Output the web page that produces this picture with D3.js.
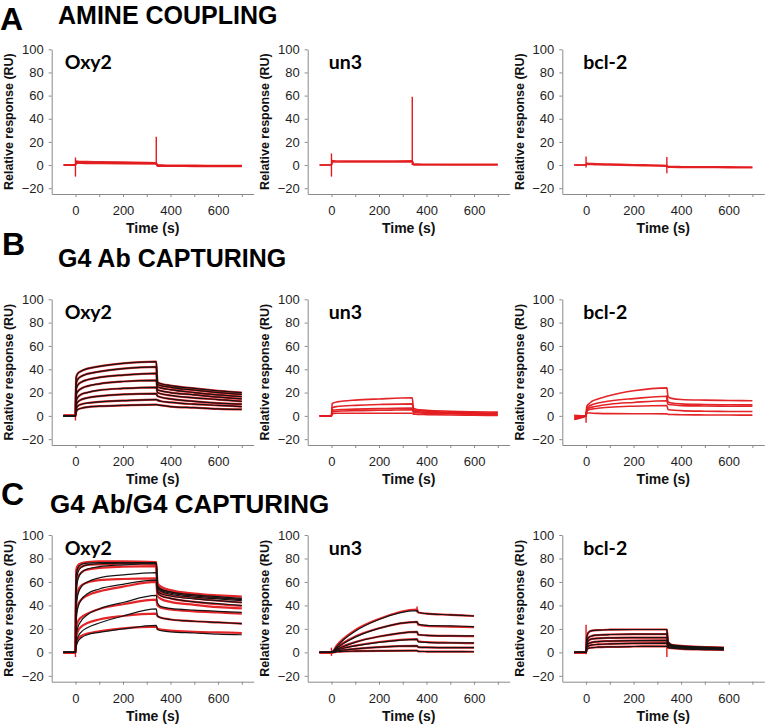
<!DOCTYPE html>
<html><head><meta charset="utf-8">
<script src="https://cdn.jsdelivr.net/npm/d3@7"></script>
<style>body{margin:0;background:#fff}</style></head>
<body>
<svg id="chart" width="775" height="727"></svg>
<script>
// ---------------- DATA ----------------
const sectionLetters = ["A", "B", "C"];
const sectionTitles = ["AMINE COUPLING", "G4 Ab CAPTURING", "G4 Ab/G4 CAPTURING"];
const ligands = ["Oxy2", "un3", "bcl-2"];
const yTicks = [-20, 0, 20, 40, 60, 80, 100];
const xTickLabels = [0, 200, 400, 600];
const xLabel = "Time (s)";
const yLabel = "Relative response (RU)";

const tAssoc = [0, 3, 10, 25, 50, 100, 200, 340];
const tDiss = [345, 360, 400, 500, 600, 700];
const tDiss580 = [345, 360, 400, 500, 580];
const tAssocLong = [0, 25, 50, 100, 200, 360];
const tDissShort = [365, 400, 500, 600];

// Row A: amine coupling (measured data only)
const aOxy2Pre = [0, 0, 0];
const aOxy2Assoc = [[0, 3.5, 3.2, 3, 3, 2.8, 2.5, 2], [0, 2.5, 2.3, 2.2, 2, 2, 1.8, 1.5], [0, 1.5, 1.5, 1.5, 1.4, 1.3, 1.2, 1]];
const aOxy2Diss = [[0, 0, -0.2, -0.3, -0.4, -0.5], [-0.5, -0.5, -0.6, -0.7, -0.8, -0.9], [-1, -1, -1, -1.1, -1.2, -1.3]];
const aOxy2Spikes = [[0, -10, 6.5], [340, 0, 24.5]];

const aUn3Pre = [0, 0];
const aUn3Assoc = [[0, 3.8, 3.6, 3.5, 3.4, 3.4, 3.4, 3.6], [0, 2.8, 2.7, 2.6, 2.6, 2.6, 2.7, 2.8]];
const aUn3Diss = [[0.8, 0.8, 0.7, 0.6, 0.6, 0.6], [0.2, 0.2, 0.2, 0.1, 0.1, 0.1]];
const aUn3Spikes = [[0, -10, 10], [340, 0, 59]];

const aBcl2Pre = [0, 0];
const aBcl2Assoc = [[0, 1.6, 1.4, 1.2, 1, 0.8, 0.3, -0.4], [0, 0.8, 0.6, 0.5, 0.3, 0.1, -0.4, -1]];
const aBcl2Diss = [[-1.2, -1.3, -1.4, -1.5, -1.6, -1.7], [-1.8, -1.9, -2, -2.1, -2.2, -2.3]];
const aBcl2Spikes = [[0, -2, 7.5], [340, -7, 7]];

// Row B: G4 Ab capturing
const bOxy2Pre = [0, 0, 0, 0, 0, 0, 0, 0];
const bOxy2Assoc = [
  [0, 33, 36.5, 38.5, 40.5, 42.5, 45, 46.5],
  [0, 28, 31.5, 34, 36, 38, 40.5, 42],
  [0, 23, 26.5, 29, 31, 33, 35, 36.5],
  [0, 18, 21, 23.5, 25.5, 27.5, 29.5, 30.5],
  [0, 13, 16, 18.5, 20, 22, 23.5, 24.5],
  [0, 9, 12, 14, 15.5, 17, 18.5, 19],
  [0, 6, 8.5, 10, 11, 12, 13, 14],
  [0, 3.5, 5.5, 6.5, 7.5, 8.3, 9, 9.7]];
const bOxy2Diss = [
  [29, 27.5, 26, 23.5, 21.5, 20],
  [27, 26, 24.5, 22, 20, 18.5],
  [25, 24, 22.5, 20, 18, 16.5],
  [22.5, 21.5, 20, 18, 16, 14.5],
  [20, 19, 17.5, 15.5, 14, 12.5],
  [17, 16, 14.5, 12.5, 11, 10],
  [13.5, 12.5, 11.5, 10, 9, 8],
  [9.5, 9, 8, 7, 6, 5.5]];
const bOxy2Spikes = [[0, -4, 0]];

const bUn3Pre = [0, 0, 0, 0, 0];
const bUn3Assoc = [
  [0, 10.5, 11.2, 12, 12.7, 13.5, 14.5, 15.5],
  [0, 7, 7.5, 8, 8.5, 9, 9.7, 10.3],
  [0, 4.8, 5, 5.3, 5.5, 5.8, 6.2, 6.6],
  [0, 3.5, 3.7, 4, 4.2, 4.5, 4.8, 5.2],
  [0, 2, 2.1, 2.2, 2.3, 2.3, 2.3, 2.3]];
const bUn3Diss = [
  [6.5, 5.5, 4.8, 4, 3.5, 3.2],
  [5, 4.5, 4, 3.2, 2.7, 2.4],
  [3.8, 3.5, 3, 2.5, 2, 1.8],
  [3, 2.7, 2.3, 1.8, 1.4, 1.2],
  [1.5, 1.3, 1.1, 0.8, 0.5, 0.3]];
const bUn3Spikes = [[0, -1, 0]];

const bBcl2Pre = [-1.5, -0.5, 0.5, -2.5, -3];
const bBcl2Assoc = [
  [0, 8, 10, 12.5, 14.5, 17.5, 21.5, 24],
  [0, 6.5, 8, 9.5, 11, 12.8, 14.8, 16.8],
  [0, 5, 6.5, 7.5, 8.5, 10, 11.5, 13],
  [0, 4, 5, 5.8, 6.5, 7.4, 8.3, 8.9],
  [0, 2.5, 2.5, 2.3, 2.1, 1.9, 1.8, 1.7]];
const bBcl2Diss = [
  [16.5, 15, 14, 13.5, 13.2, 13],
  [12, 11, 10.3, 9.8, 9.5, 9.4],
  [10, 9.5, 8.8, 8.5, 8.3, 8.2],
  [5.5, 5, 4.5, 4, 3.8, 3.7],
  [1.3, 1.2, 1, 0.8, 0.7, 0.6]];
const bBcl2Spikes = [[0, -6, 3], [340, 13, 17.5]];

// Row C: G4 Ab/G4 capturing (red = measured, black = fit)
const cOxy2Pre = [0, 0, 0, 0, 0, 0, 0, 0];
const cOxy2FitAssoc = [
  [0, 66, 72, 75, 76, 76.5, 76.5, 76.5],
  [0, 60, 68, 72.5, 74.5, 75.5, 76, 76],
  [0, 52, 62, 68, 71, 73, 74.5, 75.5],
  [0, 38, 49, 56, 60, 63.5, 66, 68],
  [0, 28, 38, 45, 50, 54, 58, 61.5],
  [0, 14, 21, 27, 32, 37, 42.5, 48.5],
  [0, 8, 13, 17.5, 21, 25, 31, 37],
  [0, 5, 9, 12.5, 15, 17, 20, 23]];
const cOxy2FitDiss = [
  [57, 54, 51.5, 49, 47.5, 46],
  [56, 53, 50.5, 48, 46.5, 45],
  [55, 52, 49.5, 47, 45.5, 44],
  [53, 50, 48, 45.5, 44, 42.5],
  [51, 48, 46, 43, 41.5, 40],
  [42, 39, 37.5, 36, 35, 34],
  [31, 29.5, 28, 26.5, 25.5, 24.5],
  [19.5, 18.5, 17.5, 16.5, 15.5, 15]];
const cOxy2DataAssoc = [
  [0, 70, 74, 76, 77, 77.5, 77.5, 77],
  [0, 64, 70, 73, 74.5, 75, 75.5, 75.5],
  [0, 56, 64, 68, 70.5, 72, 73, 73.5],
  [0, 44, 52, 57, 59.5, 61.5, 62.5, 63],
  [0, 33, 40, 45, 48.5, 52, 56, 60],
  [0, 20, 26, 30, 33, 37, 41, 45],
  [0, 12, 18, 22, 25, 28, 31, 33],
  [0, 7, 11, 14, 16, 18, 20.5, 22]];
const cOxy2DataDiss = [
  [59, 56, 53, 50, 48.5, 47.5],
  [57, 54, 51.5, 48.5, 46.5, 45.5],
  [54, 51, 48.5, 46, 44, 42.5],
  [52, 48.5, 46, 43, 41, 39.5],
  [48, 45.5, 43, 40.5, 38.5, 37.5],
  [40, 38, 36.5, 35, 34, 33],
  [31, 29.5, 28, 26.5, 25.5, 24.5],
  [20, 19.5, 18.5, 17.5, 17, 16.5]];
const cOxy2Spikes = [[0, -4, 0]];

const cUn3Pre = [0, 0, 0, 0, 0, 0];
const cUn3FitAssoc = [
  [0, 5.5, 10.5, 18, 28, 35.5],
  [0, 4, 7.5, 13, 20.5, 26],
  [0, 2.8, 5, 8.5, 13.5, 17.5],
  [0, 2, 3.5, 5.5, 8.5, 11],
  [0, 1.2, 2, 3, 4.5, 5.5],
  [0, 0.5, 0.8, 1, 1.2, 1.5]];
const cUn3FitDiss = [
  [34, 33, 32, 31],
  [24, 23, 22.5, 22],
  [15, 14.5, 14, 14],
  [9, 8.5, 8, 8],
  [4.5, 4.2, 4, 4],
  [0.8, 0.7, 0.6, 0.5]];
const cUn3DataAssoc = [
  [0, 6.5, 11.5, 19, 28.5, 36.5],
  [0, 4.5, 8, 13.5, 20.5, 26],
  [0, 3.2, 5.3, 8.8, 13.5, 17.5],
  [0, 2.3, 3.8, 5.8, 8.8, 11.3],
  [0, 1.3, 2, 3, 4.5, 5.5],
  [0, 0.5, 0.8, 1, 1.2, 1.5]];
const cUn3DataDiss = [
  [34, 33, 32, 31],
  [23.5, 22.5, 22, 21.5],
  [15, 14.5, 14, 13.8],
  [9.5, 8.8, 8.2, 7.8],
  [4.5, 4.2, 4, 4],
  [0.8, 0.7, 0.6, 0.5]];
const cUn3Spikes = [[0, -3, 4], [360, 34, 39]];

const cBcl2Pre = [0, 0, 0, 0, 0, 0];
const cBcl2FitAssoc = [
  [0, 13, 17, 18.5, 19, 19.3, 19.5, 19.5],
  [0, 9, 12.5, 14, 14.7, 15.2, 15.5, 15.5],
  [0, 7, 10, 11.5, 12, 12.3, 12.5, 12.6],
  [0, 5.5, 7.5, 8.5, 9.2, 9.6, 10, 10.2],
  [0, 4, 5.5, 6.3, 6.8, 7.2, 7.6, 7.8],
  [0, 2.5, 3.5, 4, 4.4, 4.7, 5, 5.2]];
const cBcl2FitDiss = [
  [9, 6.5, 5.5, 4.5, 4],
  [8, 6, 5, 4.2, 3.7],
  [7, 5.5, 4.7, 3.9, 3.4],
  [6, 5, 4.3, 3.5, 3],
  [5, 4.3, 3.7, 3, 2.6],
  [4, 3.5, 3, 2.4, 2]];
const cBcl2Spikes = [[0, -1.7, 23.5], [340, -4, 20]];

// ---------------- PANEL TABLE (built from the arrays) ----------------
const panels = [
  {row: 0, col: 0, pre: aOxy2Pre, ta: tAssoc, td: tDiss, red: [aOxy2Assoc, aOxy2Diss], black: null, spikes: aOxy2Spikes},
  {row: 0, col: 1, pre: aUn3Pre, ta: tAssoc, td: tDiss, red: [aUn3Assoc, aUn3Diss], black: null, spikes: aUn3Spikes},
  {row: 0, col: 2, pre: aBcl2Pre, ta: tAssoc, td: tDiss, red: [aBcl2Assoc, aBcl2Diss], black: null, spikes: aBcl2Spikes},
  {row: 1, col: 0, pre: bOxy2Pre, ta: tAssoc, td: tDiss, red: [bOxy2Assoc, bOxy2Diss], black: [bOxy2Assoc, bOxy2Diss], spikes: bOxy2Spikes},
  {row: 1, col: 1, pre: bUn3Pre, ta: tAssoc, td: tDiss, red: [bUn3Assoc, bUn3Diss], black: null, spikes: bUn3Spikes},
  {row: 1, col: 2, pre: bBcl2Pre, ta: tAssoc, td: tDiss, red: [bBcl2Assoc, bBcl2Diss], black: null, spikes: bBcl2Spikes},
  {row: 2, col: 0, pre: cOxy2Pre, ta: tAssoc, td: tDiss, red: [cOxy2DataAssoc, cOxy2DataDiss], black: [cOxy2FitAssoc, cOxy2FitDiss], spikes: cOxy2Spikes},
  {row: 2, col: 1, pre: cUn3Pre, ta: tAssocLong, td: tDissShort, red: [cUn3DataAssoc, cUn3DataDiss], black: [cUn3FitAssoc, cUn3FitDiss], spikes: cUn3Spikes},
  {row: 2, col: 2, pre: cBcl2Pre, ta: tAssoc, td: tDiss580, red: [cBcl2FitAssoc, cBcl2FitDiss], black: [cBcl2FitAssoc, cBcl2FitDiss], spikes: cBcl2Spikes}
];

// ---------------- LAYOUT ----------------
const colLeft = [51.7, 307.7, 562.3];
const plotW = 202;
const rowTop = [49.3, 299.3, 535];
const rowBottom = [194, 445, 681.7];
const headerPos = [
  {lx: 0, ly: 29.5, tx: 58, ty: 23.5, fs: 25},
  {lx: 2, ly: 255, tx: 58, ty: 267, fs: 25},
  {lx: 1, ly: 505, tx: 50, ty: 513, fs: 26}
];
const titleOffset = [13, 21, 21];
const RED = "#e3191c";
const BLACK = "#141414";
const AXIS = "#8a8a8a";
const sans = "'Liberation Sans', Arial, sans-serif";

const svg = d3.select("#chart");

sectionLetters.forEach((L, i) => {
  const h = headerPos[i];
  svg.append("text").attr("x", h.lx).attr("y", h.ly).text(L)
    .attr("font-family", sans).attr("font-weight", "bold").attr("font-size", 32).attr("fill", "#000");
  svg.append("text").attr("x", h.tx).attr("y", h.ty).text(sectionTitles[i])
    .attr("font-family", sans).attr("font-weight", "bold").attr("font-size", h.fs).attr("fill", "#000");
});

function buildSeries(pre, ta, td, assoc, diss) {
  return assoc.map((a, i) => {
    const pts = [[-50, pre[i]]];
    ta.forEach((t, j) => pts.push([t, a[j]]));
    td.forEach((t, j) => pts.push([t, diss[i][j]]));
    return pts;
  });
}

panels.forEach(p => {
  const left = colLeft[p.col], top = rowTop[p.row], bottom = rowBottom[p.row];
  const x = d3.scaleLinear().domain([-100, 750]).range([left, left + plotW]);
  const y = d3.scaleLinear().domain([-25, 100]).range([bottom, top]);
  const g = svg.append("g");

  // axes
  const ya = d3.axisLeft(y).tickValues(yTicks).tickSize(3).tickSizeOuter(0).tickPadding(5);
  const gy = g.append("g").attr("transform", `translate(${left},0)`).call(ya);
  const xa = d3.axisBottom(x).tickValues(d3.range(0, 701, 100)).tickSize(3).tickSizeOuter(0).tickPadding(8.8)
    .tickFormat(d => xTickLabels.includes(d) ? String(d) : "");
  const gx = g.append("g").attr("transform", `translate(0,${bottom})`).call(xa);
  [gy, gx].forEach(ax => {
    ax.selectAll("path, line").attr("stroke", AXIS).attr("stroke-width", 1);
    ax.selectAll("text").attr("font-family", sans).attr("font-size", 13).attr("fill", "#1e1e1e");
  });

  g.append("text").attr("transform", `translate(${left - 38.5},${(top + bottom) / 2}) rotate(-90)`)
    .attr("text-anchor", "middle").text(yLabel)
    .attr("font-family", sans).attr("font-weight", "bold").attr("font-size", 12.5).attr("fill", "#111");
  g.append("text").attr("x", left + plotW / 2).attr("y", bottom + 39).attr("text-anchor", "middle").text(xLabel)
    .attr("font-family", sans).attr("font-weight", "bold").attr("font-size", 14).attr("fill", "#111");

  g.append("text").attr("x", left + titleOffset[p.col]).attr("y", top + 20).text(ligands[p.col])
    .attr("font-family", "Lato, 'Open Sans', sans-serif").attr("font-weight", "bold").attr("font-size", 19.5).attr("fill", "#000");

  const line = d3.line().x(d => x(d[0])).y(d => y(d[1])).curve(d3.curveMonotoneX);

  // spikes (injection artefacts)
  g.selectAll(null).data(p.spikes).enter().append("line")
    .attr("x1", d => x(d[0])).attr("x2", d => x(d[0]))
    .attr("y1", d => y(d[1])).attr("y2", d => y(d[2]))
    .attr("stroke", RED).attr("stroke-width", 1.4);

  const redSeries = buildSeries(p.pre, p.ta, p.td, p.red[0], p.red[1]);
  g.selectAll(null).data(redSeries).enter().append("path")
    .attr("d", line).attr("fill", "none").attr("stroke", RED)
    .attr("stroke-width", p.black ? 2.2 : 1.6).attr("stroke-linejoin", "round").attr("opacity", 0.95);

  if (p.black) {
    const blackSeries = buildSeries(p.pre, p.ta, p.td, p.black[0], p.black[1]);
    g.selectAll(null).data(blackSeries).enter().append("path")
      .attr("d", line).attr("fill", "none").attr("stroke", BLACK)
      .attr("stroke-width", 1.2).attr("stroke-linejoin", "round");
  }
});
</script>
</body></html>
